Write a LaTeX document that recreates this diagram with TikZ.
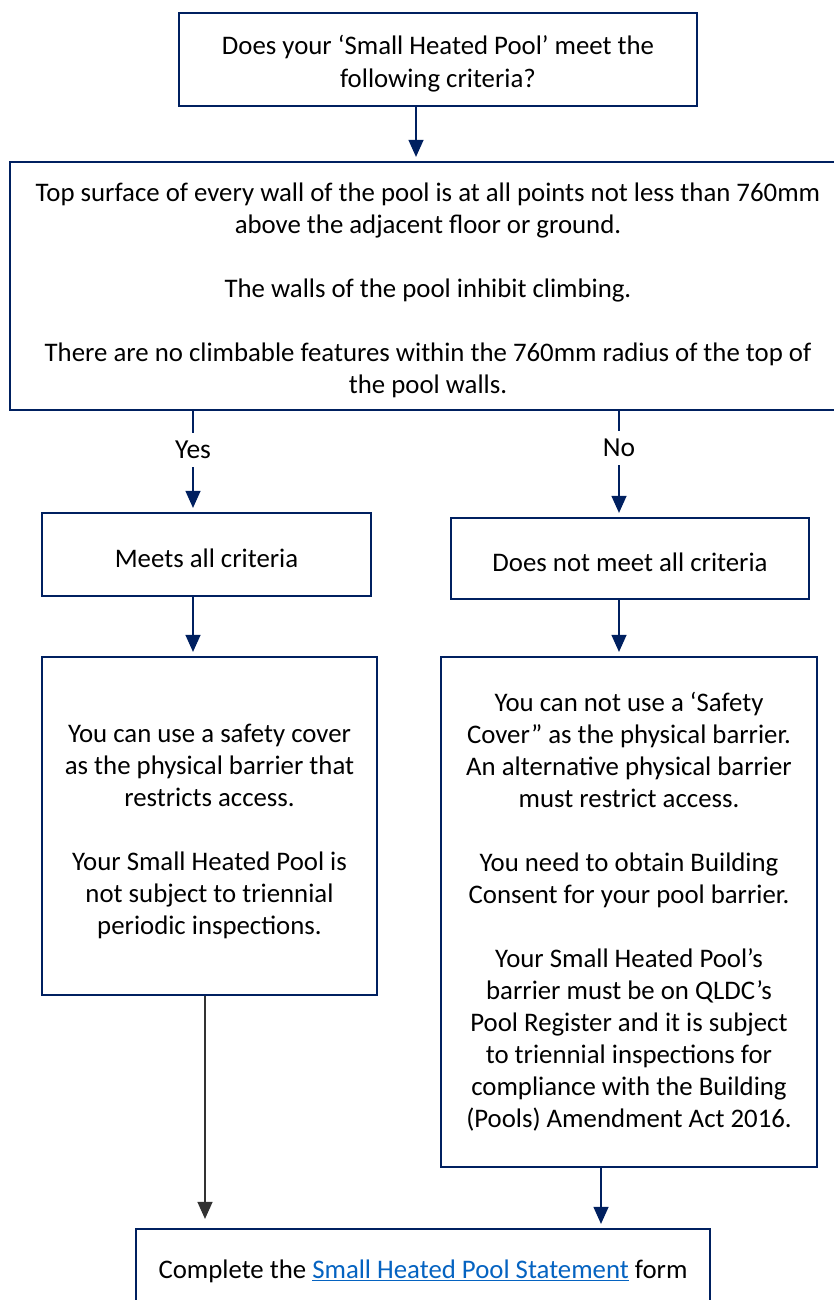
\documentclass[tikz,border=0pt]{standalone}
\usepackage{fontspec}
\setmainfont{Carlito}
\usetikzlibrary{arrows.meta}
\definecolor{navy}{RGB}{0,32,96}
\definecolor{linkblue}{RGB}{5,99,193}
\newcommand\upstrut[1]{\rule{0pt}{#1}}
\newcommand\dnstrut[1]{\rule[-#1]{0pt}{0pt}}
\begin{document}
\begin{tikzpicture}[x=1pt,y=-1pt,
  box/.style={draw=navy,line width=2.2pt,rectangle,align=center,inner sep=0pt,
    font=\fontsize{26.8}{32}\selectfont},
  lbl/.style={font=\fontsize{27.5}{32}\selectfont,inner xsep=3pt,inner ysep=8pt},
  arr/.style={draw=navy,line width=1.2pt,-{Triangle[width=15pt,length=17pt]},shorten >=4pt},
  plain/.style={draw=navy,line width=1.2pt},
  blk/.style={draw=black!80,line width=1.2pt,-{Triangle[width=15pt,length=17pt]},shorten >=9pt}]
\useasboundingbox (0,0) rectangle (834,1300);
\clip (0,0) rectangle (834,1300);
\fill[white] (0,0) rectangle (834,1300);

\node[box,minimum width=518pt,minimum height=93pt] (top) at (438,59.5)
  {\upstrut{27pt}Does your ‘Small Heated Pool’ meet the\\[1pt]following criteria?};
\node[box,minimum width=836pt,minimum height=248pt] (crit) at (428,286)
  {\upstrut{28pt}Top surface of every wall of the pool is at all points not less than 760mm\\
   above the adjacent floor or ground.\\[32pt]
   The walls of the pool inhibit climbing.\\[32pt]
   There are no climbable features within the 760mm radius of the top of\\
   the pool walls.};
\node[box,minimum width=329pt,minimum height=83pt] (meets) at (206.5,554.5) {\upstrut{27pt}Meets all criteria};
\node[box,minimum width=358pt,minimum height=81pt] (nomeet) at (630,558.5) {\upstrut{27pt}Does not meet all criteria};
\node[box,minimum width=335pt,minimum height=338pt] (yesbox) at (209.5,826)
  {\upstrut{29pt}You can use a safety cover\\as the physical barrier that\\restricts access.\\[32pt]
   Your Small Heated Pool is\\not subject to triennial\\periodic inspections.};
\node[box,minimum width=376pt,minimum height=510pt] (nobox) at (629,912)
  {You can not use a ‘Safety\\Cover” as the physical barrier.\\An alternative physical barrier\\must restrict access.\\[32pt]
   You need to obtain Building\\Consent for your pool barrier.\\[32pt]
   Your Small Heated Pool’s\\barrier must be on QLDC’s\\Pool Register and it is subject\\to triennial inspections for\\compliance with the Building\\(Pools) Amendment Act 2016.};
\node[box,minimum width=574pt,minimum height=92pt] (final) at (423,1275)
  {Complete the {\color{linkblue}\underline{Small Heated Pool Statement}} form\dnstrut{12pt}};

\coordinate (c1) at (416,0);
\coordinate (cy) at (193,0);
\coordinate (cn) at (619,0);
\coordinate (cl) at (205,0);
\coordinate (cr) at (601,0);

\node[lbl] (yes) at (193,450) {Yes};
\node[lbl] (no) at (619,448) {No};

\draw[arr] (top.south -| c1) -- (crit.north -| c1);
\draw[plain] (crit.south -| cy) -- (yes.north);
\draw[arr] (yes.south) -- (meets.north -| cy);
\draw[plain] (crit.south -| cn) -- (no.north);
\draw[arr] (no.south) -- (nomeet.north -| cn);
\draw[arr] (meets.south -| cy) -- (yesbox.north -| cy);
\draw[arr] (nomeet.south -| cn) -- (nobox.north -| cn);
\draw[blk] (yesbox.south -| cl) -- (final.north -| cl);
\draw[arr] (nobox.south -| cr) -- (final.north -| cr);
\end{tikzpicture}
\end{document}
